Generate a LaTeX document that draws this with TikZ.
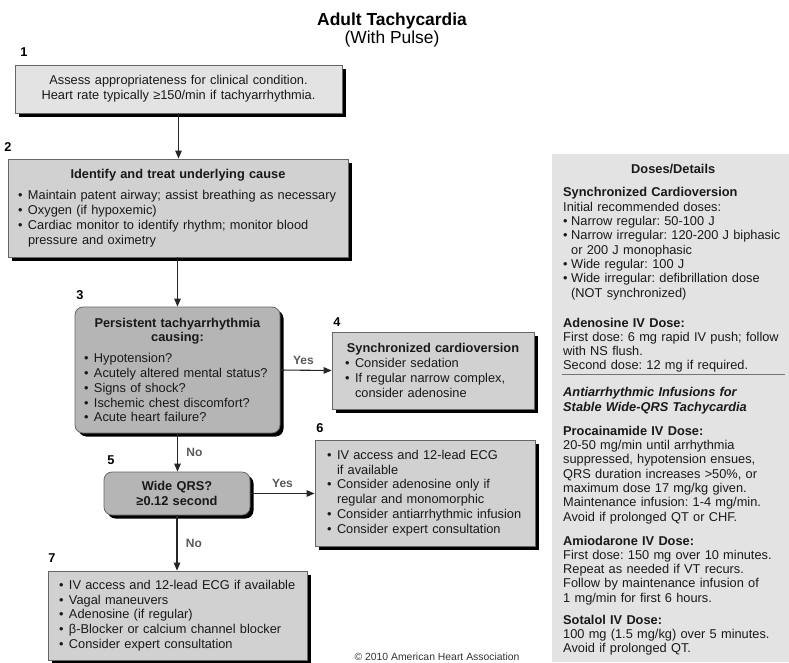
\documentclass[tikz,border=0pt]{standalone}
\usepackage{fontspec}
\setmainfont{Liberation Sans}
\usetikzlibrary{positioning,shadows,arrows.meta}
\frenchspacing

\definecolor{boxgray}{gray}{0.82}
\definecolor{darkgray}{gray}{0.71}
\definecolor{lightgray}{gray}{0.89}
\definecolor{panelgray}{gray}{0.89}

% bullets and indents for the list lines
\newcommand{\bul}{\makebox[10pt][l]{\textbullet}}
\newcommand{\ind}{\hspace*{10pt}}
\newcommand{\dbul}{\makebox[8pt][l]{\textbullet}}
\newcommand{\dind}{\hspace*{8pt}}
\newcommand{\ctr}[1]{\hspace*{\fill}#1\hspace*{\fill}\mbox{}}

\begin{document}
\begin{tikzpicture}[x=1pt,y=-1pt,
  box/.style={draw=black!60, line width=0.8pt, fill=boxgray, inner sep=0pt,
    drop shadow={shadow xshift=3.5pt,shadow yshift=-3.5pt,fill=black,opacity=1},
    font=\fontsize{12.8}{14.8}\selectfont, text=black!90, align=left},
  rbox/.style={box, rounded corners=8pt, fill=darkgray},
  num/.style={font=\fontsize{12.8}{14}\selectfont\bfseries},
  lbl/.style={font=\fontsize{12}{14}\selectfont\bfseries, text=black!65},
  arr/.style={-{Triangle[length=8pt,width=6.5pt]}, line width=1.1pt, black!85}]
\useasboundingbox (0,0) rectangle (789,662);

% title
\node[font=\fontsize{17.4}{20}\selectfont\bfseries] (title) at (392,21) {Adult Tachycardia};
\node[font=\fontsize{17.4}{20}\selectfont] (subtitle) at (392,39) {(With Pulse)};

% doses panel
\fill[panelgray] (552,154) rectangle (789,662);
\draw[black!55, line width=1pt] (562,374) -- (785,374);
\node[anchor=north west, inner sep=0pt, text width=220pt, align=left, text=black!90,
  font=\fontsize{12.8}{14.3}\selectfont] (doses) at (563,164.5) {%
\ctr{\textbf{Doses/Details}}\\[8.7pt]
\textbf{Synchronized Cardioversion}\\
Initial recommended doses:\\
\dbul Narrow regular: 50-100 J\\
\dbul Narrow irregular: 120-200 J biphasic\\
\dind or 200 J monophasic\\
\dbul Wide regular: 100 J\\
\dbul Wide irregular: defibrillation dose\\
\dind (NOT synchronized)\\[15.7pt]
\textbf{Adenosine IV Dose:}\\
First dose: 6 mg rapid IV push; follow\\
with NS flush.\\
Second dose: 12 mg if required.\\[12.7pt]
\textbf{\itshape Antiarrhythmic Infusions for}\\
\textbf{\itshape Stable Wide-QRS Tachycardia}\\[9.7pt]
\textbf{Procainamide IV Dose:}\\
20-50 mg/min until arrhythmia\\
suppressed, hypotension ensues,\\
QRS duration increases >50\%, or\\
maximum dose 17 mg/kg given.\\
Maintenance infusion: 1-4 mg/min.\\
Avoid if prolonged QT or CHF.\\[9.7pt]
\textbf{Amiodarone IV Dose:}\\
First dose: 150 mg over 10 minutes.\\
Repeat as needed if VT recurs.\\
Follow by maintenance infusion of\\
1 mg/min for first 6 hours.\\[7.7pt]
\textbf{Sotalol IV Dose:}\\
100 mg (1.5 mg/kg) over 5 minutes.\\
Avoid if prolonged QT.};

% flow boxes
\node[box, fill=lightgray, align=center, text width=310pt, minimum width=327pt, minimum height=48pt] (b1) at (178.5,89)
  {Assess appropriateness for clinical condition.\\ Heart rate typically ≥150/min if tachyarrhythmia.};
\node[box, text width=320pt, minimum width=340pt, minimum height=98pt] (b2) at (178,208)
  {\ctr{\textbf{Identify and treat underlying cause}}\\[6.5pt]
   \bul Maintain patent airway; assist breathing as necessary\\
   \bul Oxygen (if hypoxemic)\\
   \bul Cardiac monitor to identify rhythm; monitor blood\\
   \ind pressure and oximetry};
\node[rbox, text width=187pt, minimum width=205pt, minimum height=126pt] (b3) at (177.5,370)
  {\ctr{\textbf{Persistent tachyarrhythmia}}\\
   \ctr{\textbf{causing:}}\\[6pt]
   \bul Hypotension?\\
   \bul Acutely altered mental status?\\
   \bul Signs of shock?\\
   \bul Ischemic chest discomfort?\\
   \bul Acute heart failure?};
\node[box, text width=176pt, minimum width=202pt, minimum height=77pt] (b4) at (433,370.5)
  {\ctr{\textbf{Synchronized cardioversion}}\\
   \bul Consider sedation\\
   \bul If regular narrow complex,\\
   \ind consider adenosine};
\node[rbox, align=center, text width=130pt, minimum width=146pt, minimum height=43pt] (b5) at (177,493.5)
  {\textbf{Wide QRS?}\\ \textbf{≥0.12 second}};
\node[box, text width=196pt, minimum width=220pt, minimum height=106pt] (b6) at (425,493)
  {\bul IV access and 12-lead ECG\\
   \ind if available\\
   \bul Consider adenosine only if\\
   \ind regular and monomorphic\\
   \bul Consider antiarrhythmic infusion\\
   \bul Consider expert consultation};
\node[box, text width=237pt, minimum width=259pt, minimum height=89pt] (b7) at (177.5,615.5)
  {\bul IV access and 12-lead ECG if available\\
   \bul Vagal maneuvers\\
   \bul Adenosine (if regular)\\
   \bul β-Blocker or calcium channel blocker\\
   \bul Consider expert consultation};

% step numbers
\node[num] (n1) at (24,52) {1};
\node[num] (n2) at (8,147) {2};
\node[num] (n3) at (80,295) {3};
\node[num] (n4) at (337,322) {4};
\node[num] (n5) at (111,460) {5};
\node[num] (n6) at (320,428) {6};
\node[num] (n7) at (52,558) {7};

% connectors
\draw[arr] (b1.south) -- (b1.south |- b2.north);
\draw[arr] (b3.north |- b2.south) -- (b3.north);
\draw[arr] (b3.east) -- node[lbl, above=2pt, pos=0.45] (yes1) {Yes} (b4.west);
\draw[arr] (b3.south) -- node[lbl, right=5pt] (no1) {No} (b3.south |- b5.north);
\draw[arr] (b5.east) -- node[lbl, above=2pt] (yes2) {Yes} (b5.east -| b6.west);
\draw[arr] (b5.south) -- node[lbl, right=5pt] (no2) {No} (b5.south |- b7.north);

\node[anchor=south, inner sep=0pt, font=\fontsize{10.4}{12}\selectfont, text=black!80] (copy) at (437,661)
  {© 2010 American Heart Association};
\end{tikzpicture}
\end{document}
